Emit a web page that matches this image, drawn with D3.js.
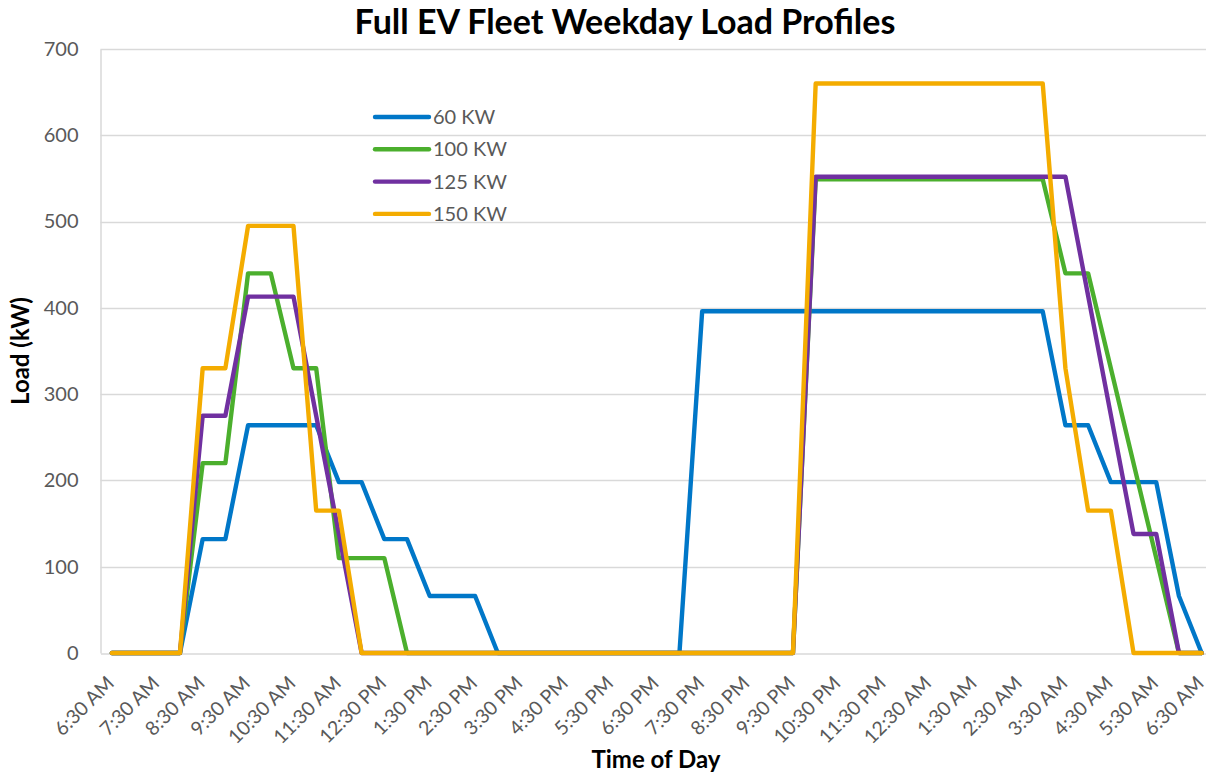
<!DOCTYPE html>
<html>
<head>
    <title>Full EV Fleet Weekday Load Profiles</title>
    <script src="https://d3js.org/d3.v7.min.js"></script>
    <style>
        body { margin: 0; background: #fff; }
        text { font-family: Lato, "Open Sans", sans-serif; }
    </style>
</head>
<body>
    <svg width="1206" height="774"></svg>
    <script>
        // half hour steps, one full day starting 6:30 AM
        var times = ["6:30 AM", "7:00 AM", "7:30 AM", "8:00 AM", "8:30 AM", "9:00 AM", "9:30 AM",
            "10:00 AM", "10:30 AM", "11:00 AM", "11:30 AM", "12:00 PM", "12:30 PM", "1:00 PM",
            "1:30 PM", "2:00 PM", "2:30 PM", "3:00 PM", "3:30 PM", "4:00 PM", "4:30 PM", "5:00 PM",
            "5:30 PM", "6:00 PM", "6:30 PM", "7:00 PM", "7:30 PM", "8:00 PM", "8:30 PM", "9:00 PM",
            "9:30 PM", "10:00 PM", "10:30 PM", "11:00 PM", "11:30 PM", "12:00 AM", "12:30 AM",
            "1:00 AM", "1:30 AM", "2:00 AM", "2:30 AM", "3:00 AM", "3:30 AM", "4:00 AM", "4:30 AM",
            "5:00 AM", "5:30 AM", "6:00 AM", "6:30 AM"];

        var seriesNames = ["60 KW", "100 KW", "125 KW", "150 KW"];
        var seriesColors = ["#0077c8", "#4baf2d", "#7030a0", "#f4ac00"];

        var load60 = [0, 0, 0, 0, 132, 132, 264, 264, 264, 264, 198, 198, 132, 132, 66, 66, 66,
            0, 0, 0, 0, 0, 0, 0, 0, 0,
            396, 396, 396, 396, 396, 396, 396, 396, 396, 396, 396, 396, 396, 396, 396, 396,
            264, 264, 198, 198, 198, 66, 0];
        var load100 = [0, 0, 0, 0, 220, 220, 440, 440, 330, 330, 110, 110, 110,
            0, 0, 0, 0, 0, 0, 0, 0, 0, 0, 0, 0, 0, 0, 0, 0, 0, 0,
            549, 549, 549, 549, 549, 549, 549, 549, 549, 549, 549,
            440, 440, 330, 220, 110, 0, 0];
        var load125 = [0, 0, 0, 0, 275, 275, 413, 413, 413, 275, 138,
            0, 0, 0, 0, 0, 0, 0, 0, 0, 0, 0, 0, 0, 0, 0, 0, 0, 0, 0, 0,
            552, 552, 552, 552, 552, 552, 552, 552, 552, 552, 552, 552,
            414, 276, 138, 138, 0, 0];
        var load150 = [0, 0, 0, 0, 330, 330, 495, 495, 495, 165, 165,
            0, 0, 0, 0, 0, 0, 0, 0, 0, 0, 0, 0, 0, 0, 0, 0, 0, 0, 0, 0,
            660, 660, 660, 660, 660, 660, 660, 660, 660, 660, 660,
            330, 165, 165, 0, 0, 0, 0];

        var yTicks = [0, 100, 200, 300, 400, 500, 600, 700];

        var svg = d3.select("svg"),
            width = +svg.attr("width"),
            height = +svg.attr("height");

        var series = [load60, load100, load125, load150];

        // plot area runs a bit past the right edge, like the original screenshot
        var x = d3.scalePoint()
            .domain(d3.range(times.length))
            .range([100.5, 1213])
            .padding(0.5);
        var y = d3.scaleLinear().domain([0, 700]).range([653, 49]);

        // gridlines
        svg.append("g")
            .selectAll("line")
            .data(yTicks.slice(1))
            .enter().append("line")
            .attr("x1", 100.5)
            .attr("x2", 1213)
            .attr("y1", function(d) { return Math.round(y(d)) + 0.5; })
            .attr("y2", function(d) { return Math.round(y(d)) + 0.5; })
            .style("stroke", "#d9d9d9")
            .style("stroke-width", 1.5);

        // y axis
        var yAxis = svg.append("g")
            .attr("transform", "translate(100.5,0)")
            .call(d3.axisLeft(y).tickValues(yTicks).tickSize(0).tickPadding(22));
        yAxis.select(".domain").style("stroke", "#d9d9d9").style("stroke-width", 1.5);
        yAxis.selectAll("text")
            .style("font-size", "20px")
            .style("fill", "#595959");

        // x axis, only the :30 times get a label
        var xAxis = svg.append("g")
            .attr("transform", "translate(0,653.5)")
            .call(d3.axisBottom(x)
                .tickValues(d3.range(0, times.length, 2))
                .tickFormat(function(i) { return times[i]; })
                .tickSize(0));
        xAxis.select(".domain").style("stroke", "#d9d9d9").style("stroke-width", 1.5);
        xAxis.selectAll("text")
            .attr("y", 0)
            .attr("dy", "0.35em")
            .attr("text-anchor", "end")
            .attr("transform", "translate(-2,26) rotate(-45)")
            .style("font-size", "19.5px")
            .style("fill", "#595959");

        var line = d3.line()
            .x(function(d, i) { return x(i); })
            .y(function(d) { return y(d); });

        svg.append("g")
            .selectAll("path")
            .data(series)
            .enter().append("path")
            .attr("d", line)
            .style("fill", "none")
            .style("stroke", function(d, i) { return seriesColors[i]; })
            .style("stroke-width", 4.4)
            .style("stroke-linejoin", "round")
            .style("stroke-linecap", "round");

        // legend
        var legend = svg.append("g")
            .selectAll("g")
            .data(seriesNames)
            .enter().append("g")
            .attr("transform", function(d, i) { return "translate(375," + (117 + i * 32.3) + ")"; });
        legend.append("line")
            .attr("x1", 0)
            .attr("x2", 54)
            .style("stroke", function(d, i) { return seriesColors[i]; })
            .style("stroke-width", 4.4)
            .style("stroke-linecap", "round");
        legend.append("text")
            .attr("x", 58)
            .attr("dy", "0.35em")
            .style("font-size", "20px")
            .style("fill", "#595959")
            .text(function(d) { return d; });

        // titles
        svg.append("text")
            .attr("x", 625)
            .attr("y", 34)
            .attr("text-anchor", "middle")
            .style("font-size", "34px")
            .style("font-weight", "bold")
            .style("fill", "#000")
            .text("Full EV Fleet Weekday Load Profiles");

        svg.append("text")
            .attr("x", 656)
            .attr("y", 768)
            .attr("text-anchor", "middle")
            .style("font-size", "24px")
            .style("font-weight", "bold")
            .style("fill", "#000")
            .text("Time of Day");

        svg.append("text")
            .attr("transform", "translate(29,351) rotate(-90)")
            .attr("text-anchor", "middle")
            .style("font-size", "24px")
            .style("font-weight", "bold")
            .style("fill", "#000")
            .text("Load (kW)");
    </script>
</body>
</html>
